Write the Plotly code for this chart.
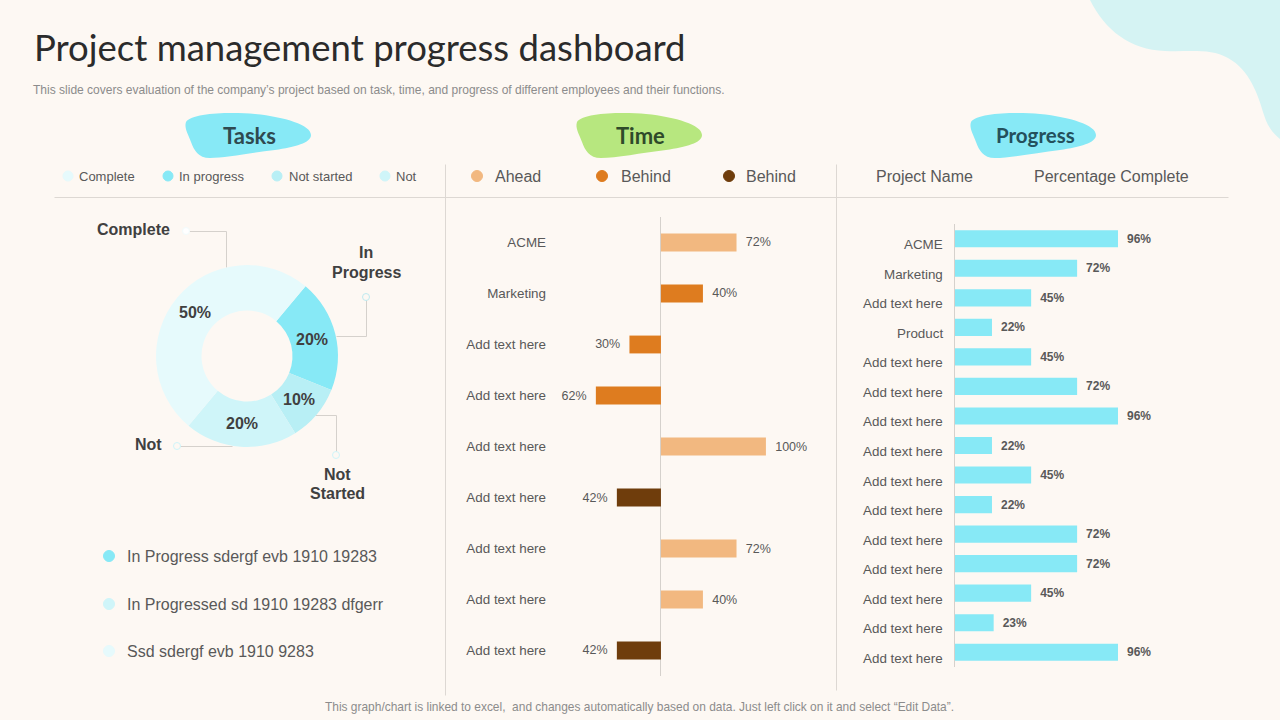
import plotly.graph_objects as go

W, H = 1280, 720
BG = "#FDF8F3"
TXT = "#595959"
DARK = "#404040"
LINE = "#DDD8D3"
CYAN = "#87E9F6"

# ---- data ----
task_labels = ["In Progress", "Not Started", "Not", "Complete"]
task_values = [20, 10, 20, 50]
task_colors = [CYAN, "#B8EFF5", "#CFF5F9", "#E6FAFC"]

time_names = ["ACME", "Marketing", "Add text here", "Add text here", "Add text here",
              "Add text here", "Add text here", "Add text here", "Add text here"]
time_values = [72, 40, -30, -62, 100, -42, 72, 40, -42]
time_status = ["ahead", "behind", "behind", "behind", "ahead", "late", "ahead", "ahead", "late"]
status_colors = {"ahead": "#F2B880", "behind": "#DE7C1F", "late": "#6F3D0C"}

progress_names = ["ACME", "Marketing", "Add text here", "Product", "Add text here", "Add text here",
                  "Add text here", "Add text here", "Add text here", "Add text here", "Add text here",
                  "Add text here", "Add text here", "Add text here", "Add text here"]
progress_values = [96, 72, 45, 22, 45, 72, 96, 22, 45, 22, 72, 72, 45, 23, 96]

task_legend = ["Complete", "In progress", "Not started", "Not"]
time_legend = ["Ahead", "Behind", "Behind"]
notes = ["In Progress sdergf evb 1910 19283", "In Progressed sd 1910 19283 dfgerr", "Ssd sdergf evb 1910 9283"]


def px(x):
    return x / W


def py(y):
    return 1 - y / H


def path(points):
    out = f"M {px(points[0][0]):.5f} {py(points[0][1]):.5f}"
    for seg in points[1:]:
        c = " ".join(f"{px(seg[i]):.5f} {py(seg[i + 1]):.5f}" for i in range(0, 6, 2))
        out += " C " + c
    return out + " Z"


shapes, ann = [], []


def text(x, y, s, size=12, color=TXT, anchor="left", font="Liberation Sans"):
    pad = {"left": -2, "right": 2, "center": 0}[anchor]
    ann.append(dict(x=px(x + pad), y=py(y), xref="paper", yref="paper", text=s, showarrow=False,
                    xanchor=anchor, yanchor="middle", align="center",
                    font=dict(size=size, color=color, family=font)))


def dot(x, y, r, color, line=None):
    shapes.append(dict(type="circle", xref="paper", yref="paper", x0=px(x - r), x1=px(x + r),
                       y0=py(y - r), y1=py(y + r), fillcolor=color,
                       line=dict(color=line or color, width=1), layer="above"))


def seg(pts, color="#D5D1CC"):
    for (a, b), (c, d) in zip(pts, pts[1:]):
        shapes.append(dict(type="line", xref="paper", yref="paper", x0=px(a + 0.5), y0=py(b + 0.5),
                           x1=px(c + 0.5), y1=py(d + 0.5),
                           line=dict(color=color, width=1), layer="below"))


# corner blob
shapes.append(dict(type="path", xref="paper", yref="paper", fillcolor="#D5F3F3", line=dict(width=0), layer="below",
                   path=path([(1090, 0),
                              (1105, 30, 1130, 50, 1165, 51),
                              (1190, 52, 1210, 48, 1228, 58),
                              (1250, 70, 1258, 95, 1264, 115),
                              (1268, 128, 1274, 134, 1280, 139),
                              (1280, 90, 1280, 40, 1280, 0),
                              (1220, 0, 1150, 0, 1090, 0)])))


def pill(dx, color):
    shapes.append(dict(type="path", xref="paper", yref="paper", fillcolor=color, line=dict(width=0), layer="below",
                       path=path([(186 + dx, 122),
                                  (192 + dx, 112, 235 + dx, 112, 255 + dx, 114),
                                  (285 + dx, 117, 311 + dx, 125, 311 + dx, 135),
                                  (311 + dx, 143, 295 + dx, 147, 275 + dx, 150),
                                  (250 + dx, 153, 225 + dx, 158, 210 + dx, 158),
                                  (198 + dx, 158, 194 + dx, 150, 191 + dx, 142),
                                  (188 + dx, 134, 184 + dx, 128, 186 + dx, 122)])))


pill(0, CYAN)
pill(391, "#B7E77F")
pill(785, CYAN)

# separators
seg([(54, 197), (1228, 197)], LINE)
seg([(445, 164), (445, 695)], LINE)
seg([(836, 164), (836, 690)], LINE)

# heading
text(34, 47, "Project management progress dashboard", 36.5, "#2B2B2B", font="Lato")
text(33, 90, "This slide covers evaluation of the company’s project based on task, time, and progress of different employees and their functions.", 12.03, "#8C8C8C")
text(249, 135, "<b>Tasks</b>", 22, "#2F4A50", "center", "Lato")
text(640, 135, "<b>Time</b>", 22, "#2F4A2A", "center", "Lato")
text(1035, 135, "<b>Progress</b>", 20.5, "#24505C", "center", "Lato")

# legends
for x, tx, s, c in zip([68, 168, 277, 385], [79, 179, 289, 396], task_legend,
                       ["#E6FAFC", CYAN, "#B8EFF5", "#CFF5F9"]):
    dot(x, 176, 5, c)
    text(tx, 176, s, 13)
for x, tx, s, c in zip([477, 602, 729], [495, 621, 746], time_legend, status_colors.values()):
    dot(x, 176, 5.5, c)
    text(tx, 176, s, 16)
text(876, 176, "Project Name", 16)
text(1034, 176, "Percentage Complete", 16)

# donut callouts
seg([(186, 231), (226, 231), (226, 267)])
seg([(366, 297), (366, 336), (336, 336)])
seg([(336, 455), (336, 415), (315, 415)])
seg([(177, 446), (232, 446)])
dot(186, 231, 3.5, "#FFFFFF", "#F2FBFC")
dot(366, 297, 3.5, BG, "#BFEAF0")
dot(336, 455, 3.5, BG, "#CFF5F9")
dot(177, 446, 3.5, BG, "#CFF5F9")
text(170, 230, "<b>Complete</b>", 16, DARK, "right")
text(366, 253, "<b>In</b>", 16, DARK, "center")
text(366, 272, "<b>Progress</b>", 16, DARK, "center")
text(337, 474, "<b>Not</b>", 16, DARK, "center")
text(337, 493, "<b>Started</b>", 16, DARK, "center")
text(162, 444, "<b>Not</b>", 16, DARK, "right")
for x, y, v in zip([312, 299, 242, 195], [339, 399, 423, 312], task_values):
    text(x, y, f"<b>{v}%</b>", 16, DARK, "center")

# notes
for y, s, c in zip([556, 604, 651], notes, [CYAN, "#CFF5F9", "#E6FAFC"]):
    dot(109, y, 5.5, c)
    text(127, y, s, 16)

text(639, 707, "This graph/chart is linked to excel,  and changes automatically based on data. Just left click on it and select “Edit Data”.", 11.95, "#8C8C8C", "center")

fig = go.Figure()
fig.add_trace(go.Pie(labels=task_labels, values=task_values, hole=0.5, sort=False, direction="clockwise",
                     rotation=40, textinfo="none", showlegend=False,
                     marker=dict(colors=task_colors, line=dict(width=0)),
                     domain=dict(x=[px(247 - 91), px(247 + 91)], y=[py(356 + 91), py(356 - 91)])))

t_y = list(range(len(time_values)))
time_text = [f"\u2002{v}%" if v > 0 else f"{-v}%\u2002" for v in time_values]
fig.add_trace(go.Bar(x=time_values, y=t_y, orientation="h", xaxis="x", yaxis="y", width=0.35,
                     marker=dict(color=[status_colors[s] for s in time_status], line=dict(width=0)),
                     text=time_text, textposition="outside", cliponaxis=False, constraintext="none",
                     textfont=dict(size=12.5, color=TXT, family="Liberation Sans"), showlegend=False))

p_y = list(range(len(progress_values)))
fig.add_trace(go.Bar(x=progress_values, y=p_y, orientation="h", xaxis="x2", yaxis="y2", width=0.58,
                     marker=dict(color=CYAN, line=dict(width=0)),
                     text=[f"\u2002<b>{v}%</b>" for v in progress_values], textposition="outside", cliponaxis=False,
                     constraintext="none",
                     textfont=dict(size=12, color=TXT, family="Liberation Sans"), showlegend=False))

for i, name in zip(p_y, progress_names):
    ann.append(dict(x=px(945), y=i, xref="paper", yref="y2", text=name, showarrow=False, xanchor="right",
                    yanchor="middle", yshift=-6, font=dict(size=13.4, color=TXT, family="Liberation Sans")))

fig.update_layout(
    width=W, height=H, margin=dict(l=0, r=0, t=0, b=0), paper_bgcolor=BG, plot_bgcolor="rgba(0,0,0,0)",
    autosize=False, shapes=shapes, annotations=ann,
    xaxis=dict(domain=[px(451), px(831)], range=[-200, 162], anchor="y", visible=True, showgrid=False,
               showticklabels=False, ticks="", zeroline=True, zerolinecolor="#D5D1CC", zerolinewidth=1, showline=False),
    yaxis=dict(domain=[py(676), py(217)], range=[8.5, -0.5], anchor="free", position=px(546), showgrid=False,
               zeroline=False, showline=False, ticks="", tickmode="array", tickvals=t_y, ticktext=time_names,
               tickfont=dict(size=13.4, color=TXT, family="Liberation Sans")),
    xaxis2=dict(domain=[px(954.5), px(1220)], range=[0, 155.9], anchor="y2", showgrid=False, showticklabels=False,
                ticks="", zeroline=False, showline=False),
    yaxis2=dict(domain=[py(667), py(224)], range=[14.5, -0.5], anchor="x2", showgrid=False, zeroline=False,
                showline=True, linecolor="#D5D1CC", linewidth=1, ticks="", showticklabels=False,
                tickmode="array", tickvals=p_y),
)
fig.write_html("out.html", post_script="document.body.style.margin='0';", config=dict(displayModeBar=False))
